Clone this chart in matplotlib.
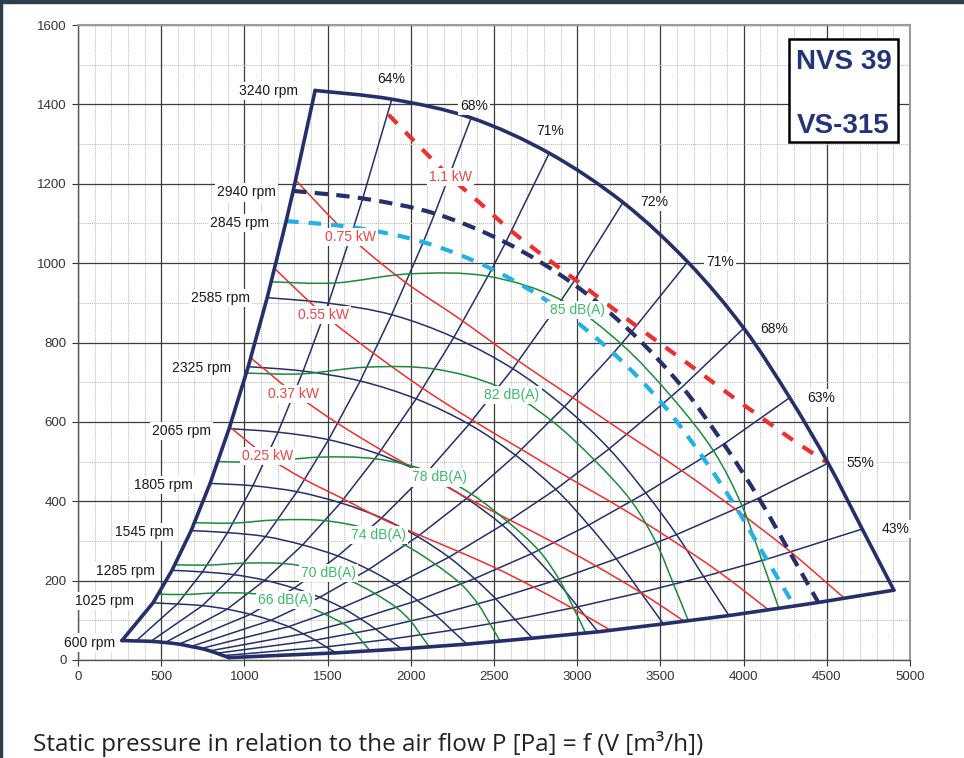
import matplotlib
matplotlib.use("Agg")
import matplotlib.pyplot as plt
from matplotlib.ticker import MultipleLocator
from matplotlib.patches import Rectangle, PathPatch
from matplotlib.path import Path

plt.rcParams['font.family'] = ['Liberation Sans', 'DejaVu Sans']

# ---------------- data (air flow V [m3/h], static pressure P [Pa]) ----------------
# constant-speed curves, sampled at the efficiency-line nodes
q_3240 = [1425, 1886, 2363, 2832, 3275, 3664, 4001, 4277, 4508, 4713, 4903]
p_3240 = [1435, 1413, 1366, 1277, 1153, 1003, 836, 661, 496, 330, 176]
q_2940 = [1293, 1711, 2144, 2570, 2972, 3325, 3631, 3881, 4091, 4277, 4449]
p_2940 = [1182, 1163, 1125, 1052, 949, 826, 688, 544, 408, 272, 145]
q_2845 = [1251, 1656, 2075, 2487, 2876, 3217, 3513, 3756, 3958, 4138, 4305]
p_2845 = [1106, 1090, 1053, 985, 889, 773, 645, 510, 382, 254, 136]
q_2585 = [1137, 1505, 1885, 2259, 2613, 2923, 3192, 3412, 3597, 3760, 3912]
p_2585 = [913, 899, 870, 813, 734, 638, 532, 421, 316, 210, 112]
q_2325 = [1023, 1353, 1696, 2032, 2350, 2629, 2871, 3069, 3235, 3382, 3518]
p_2325 = [739, 728, 703, 658, 594, 516, 430, 340, 255, 170, 91]
q_2065 = [908, 1202, 1506, 1805, 2087, 2335, 2550, 2726, 2873, 3004, 3125]
p_2065 = [583, 574, 555, 519, 468, 407, 340, 268, 201, 134, 71]
q_1805 = [794, 1051, 1316, 1578, 1825, 2041, 2229, 2383, 2511, 2626, 2731]
p_1805 = [445, 439, 424, 396, 358, 311, 259, 205, 154, 102, 55]
q_1545 = [680, 899, 1127, 1350, 1562, 1747, 1908, 2040, 2150, 2247, 2338]
p_1545 = [326, 321, 311, 290, 262, 228, 190, 150, 113, 75, 40]
q_1285 = [565, 748, 937, 1123, 1299, 1453, 1587, 1696, 1788, 1869, 1945]
p_1285 = [226, 222, 215, 201, 181, 158, 132, 104, 78, 52, 28]
q_1025 = [451, 597, 748, 896, 1036, 1159, 1266, 1353, 1426, 1491, 1551]
p_1025 = [144, 141, 137, 128, 115, 100, 84, 66, 50, 33, 18]
q_600 = [264, 349, 438, 524, 607, 679, 741, 792, 835, 873, 908]
p_600 = [49, 48, 47, 44, 40, 34, 29, 23, 17, 11, 6]

rpm_label_text = ["3240 rpm", "2940 rpm", "2845 rpm", "2585 rpm", "2325 rpm", "2065 rpm",
                  "1805 rpm", "1545 rpm", "1285 rpm", "1025 rpm", "600 rpm"]
eff_text = ["64%", "68%", "71%", "72%", "71%", "68%", "63%", "55%", "43%"]

# power lines
kw025_q = [913, 1132, 1357, 1589, 1820, 2045, 2271, 2504, 2727, 2964, 3192]
kw025_p = [587, 514, 456, 407, 357, 316, 276, 233, 186, 132, 77]
kw037_q = [1042, 1290, 1547, 1811, 2074, 2331, 2589, 2854, 3108, 3378, 3638]
kw037_p = [760, 675, 600, 532, 470, 410, 354, 297, 238, 171, 99]
kw055_q = [1185, 1472, 1766, 2067, 2367, 2660, 2954, 3256, 3548, 3855, 4151]
kw055_p = [985, 872, 776, 686, 605, 532, 458, 385, 308, 221, 126]
kw075_q = [1315, 1632, 1957, 2292, 2624, 2949, 3276, 3611, 3934, 4275, 4602]
kw075_p = [1206, 1068, 955, 860, 760, 668, 575, 482, 385, 275, 157]
kw110_q = [1866, 2045, 2224, 2417, 2604, 2795, 2989, 3170, 3351, 3530, 3710, 3905, 4103, 4300, 4508]
kw110_p = [1374, 1297, 1222, 1151, 1081, 1019, 958, 900, 843, 788, 733, 672, 612, 553, 496]
kw_text = ["0.25 kW", "0.37 kW", "0.55 kW", "0.75 kW", "1.1 kW"]

# noise lines
db66_q = [484, 645, 831, 1027, 1211, 1361, 1486, 1592, 1663, 1713, 1756]
db66_p = [166, 165, 169, 168, 158, 138, 115, 92, 68, 44, 23]
db70_q = [582, 775, 1000, 1235, 1456, 1636, 1786, 1914, 1999, 2060, 2111]
db70_p = [240, 239, 244, 243, 228, 200, 167, 132, 98, 63, 33]
db74_q = [700, 932, 1202, 1485, 1751, 1967, 2148, 2302, 2404, 2476, 2538]
db74_p = [346, 345, 353, 351, 329, 289, 241, 191, 141, 91, 47]
db78_q = [841, 1120, 1445, 1785, 2105, 2365, 2583, 2767, 2890, 2977, 3051]
db78_p = [500, 499, 511, 507, 476, 418, 348, 277, 204, 132, 68]
db82_q = [1012, 1347, 1737, 2146, 2530, 2843, 3105, 3326, 3475, 3580, 3668]
db82_p = [723, 721, 738, 733, 688, 604, 503, 400, 295, 190, 99]
db85_q = [1161, 1547, 1994, 2464, 2905, 3265, 3565, 3819, 3990, 4110, 4212]
db85_p = [953, 950, 973, 967, 907, 796, 664, 527, 389, 251, 130]
db_text = ["66 dB(A)", "70 dB(A)", "74 dB(A)", "78 dB(A)", "82 dB(A)", "85 dB(A)"]

# ---------------- label placement (data coordinates) ----------------
rpm_label_xy = [(1144, 1433), (1010, 1178), (970, 1102), (854, 912), (740, 735), (623, 578),
                (513, 441), (397, 323), (287, 225), (156, 149), (68, 44)]
eff_label_xy = [(1880, 1465), (2381, 1397), (2838, 1334), (3464, 1153), (3856, 1003),
                (4185, 834), (4466, 661), (4702, 496), (4913, 330)]
kw_label_xy = [(1138, 514), (1295, 671), (1475, 870), (1636, 1065), (2237, 1217)]
db_label_xy = [(1245, 151), (1505, 219), (1806, 315), (2173, 460), (2608, 668), (2999, 881)]

# ---------------- styles ----------------
navy = '#25306b'
red = '#ee2f2f'
red_txt = '#f04444'
green = '#1b8a3c'
green_txt = '#3dba6a'
cyan = '#22b0e5'


def smooth_line(ax, q, p, **kw):
    """Draw a smooth (cubic Bezier, Catmull-Rom style) curve through the given nodes."""
    pts = list(zip(q, p))
    n = len(pts)
    verts = [pts[0]]
    codes = [Path.MOVETO]
    for i in range(n - 1):
        p0 = pts[i - 1] if i > 0 else pts[i]
        p1 = pts[i]
        p2 = pts[i + 1]
        p3 = pts[i + 2] if i + 2 < n else pts[i + 1]
        c1 = (p1[0] + (p2[0] - p0[0]) / 6.0, p1[1] + (p2[1] - p0[1]) / 6.0)
        c2 = (p2[0] - (p3[0] - p1[0]) / 6.0, p2[1] - (p3[1] - p1[1]) / 6.0)
        verts += [c1, c2, p2]
        codes += [Path.CURVE4] * 3
    patch = PathPatch(Path(verts, codes), fill=False, **kw)
    ax.add_patch(patch)
    return patch


fig = plt.figure(figsize=(9.64, 7.58), dpi=100)
fig.patch.set_facecolor('white')
ax = fig.add_axes([78 / 964, 1 - 660 / 758, 832 / 964, 635 / 758])
ax.set_xlim(0, 5000)
ax.set_ylim(0, 1600)
ax.xaxis.set_major_locator(MultipleLocator(500))
ax.xaxis.set_minor_locator(MultipleLocator(100))
ax.yaxis.set_major_locator(MultipleLocator(200))
ax.yaxis.set_minor_locator(MultipleLocator(100))
ax.grid(which='minor', color='#b8b8b8', lw=0.7, ls=(0, (1, 1)))
ax.grid(which='major', color='#3c3c3c', lw=0.9)
ax.set_axisbelow(True)
ax.tick_params(which='minor', length=0)
ax.tick_params(which='major', length=4, width=0.8, colors='#333333', labelsize=9.5, pad=4)
for s in ['top', 'right']:
    ax.spines[s].set_color('#9a9a9a')
    ax.spines[s].set_linewidth(1.5)
for s in ['left', 'bottom']:
    ax.spines[s].set_color('#555555')
    ax.spines[s].set_linewidth(1.0)

curves = [(q_600, p_600), (q_1025, p_1025), (q_1285, p_1285), (q_1545, p_1545),
          (q_1805, p_1805), (q_2065, p_2065), (q_2325, p_2325), (q_2585, p_2585),
          (q_2845, p_2845), (q_2940, p_2940), (q_3240, p_3240)]

# thin speed curves
for q, p in curves[1:8]:
    smooth_line(ax, q, p, edgecolor=navy, lw=1.1, zorder=2)
# efficiency lines through the nodes
for j in range(1, 10):
    ax.plot([c[0][j] for c in curves], [c[1][j] for c in curves], color=navy, lw=1.1, zorder=2)

# power lines
for q, p in [(kw025_q, kw025_p), (kw037_q, kw037_p), (kw055_q, kw055_p), (kw075_q, kw075_p)]:
    smooth_line(ax, q, p, edgecolor=red, lw=1.1, zorder=3)
smooth_line(ax, kw110_q, kw110_p, edgecolor=red, lw=3.0, linestyle=(0, (3.0, 2.8)), zorder=4)

# noise lines
for q, p in [(db66_q, db66_p), (db70_q, db70_p), (db74_q, db74_p), (db78_q, db78_p),
             (db82_q, db82_p), (db85_q, db85_p)]:
    smooth_line(ax, q, p, edgecolor=green, lw=1.1, zorder=3)

# dashed speed curves
smooth_line(ax, q_2940, p_2940, edgecolor=navy, lw=3.0, linestyle=(0, (3.2, 2.0)), zorder=4)
smooth_line(ax, q_2845, p_2845, edgecolor=cyan, lw=3.0, linestyle=(0, (3.0, 2.4)), zorder=4)

# thick outline: left boundary, top (3240 rpm), right/bottom boundary, 600 rpm curve
ax.plot([c[0][0] for c in curves], [c[1][0] for c in curves], color=navy, lw=2.6, zorder=5,
        solid_capstyle='round', solid_joinstyle='round')
ax.plot([c[0][10] for c in curves], [c[1][10] for c in curves], color=navy, lw=2.6, zorder=5,
        solid_capstyle='round', solid_joinstyle='round')
smooth_line(ax, q_3240, p_3240, edgecolor=navy, lw=2.6, zorder=5, capstyle='round')
smooth_line(ax, q_600, p_600, edgecolor=navy, lw=2.6, zorder=5, capstyle='round')

bb = dict(boxstyle='square,pad=0.15', fc='white', ec='none')
for t, (x, y) in zip(rpm_label_text, rpm_label_xy):
    ax.text(x, y, t, fontsize=10, color='#1a1a1a', ha='center', va='center', bbox=bb, zorder=7, clip_on=False)
for t, (x, y) in zip(eff_text, eff_label_xy):
    ax.text(x, y, t, fontsize=10, color='#1a1a1a', ha='center', va='center', bbox=bb, zorder=7, clip_on=False)
for t, (x, y) in zip(kw_text, kw_label_xy):
    ax.text(x, y, t, fontsize=10, color=red_txt, ha='center', va='center', bbox=bb, zorder=7)
for t, (x, y) in zip(db_text, db_label_xy):
    ax.text(x, y, t, fontsize=10, color=green_txt, ha='center', va='center', bbox=bb, zorder=7)

# model box
ax.add_patch(Rectangle((4275, 1304), 652, 261, fc='white', ec='black', lw=1.8, zorder=8))
ax.text(4600, 1489, "NVS 39", fontsize=20, fontweight='bold', color='#22357a', ha='center', va='baseline', zorder=9)
ax.text(4600, 1328, "VS-315", fontsize=20, fontweight='bold', color='#22357a', ha='center', va='baseline', zorder=9)

fig.text(33 / 964, 7 / 758, "Static pressure in relation to the air flow P [Pa] = f (V [m³/h])",
         family=['Open Sans', 'DejaVu Sans'], fontsize=17.5, color='#222222', va='baseline', ha='left')

fig.add_artist(Rectangle((0, 1 - 3 / 758), 1, 3 / 758, transform=fig.transFigure, color='#2c3d4b', zorder=10))
fig.add_artist(Rectangle((0, 0), 2 / 964, 1, transform=fig.transFigure, color='#2c3d4b', zorder=10))

fig.savefig('out.png', dpi=100)
